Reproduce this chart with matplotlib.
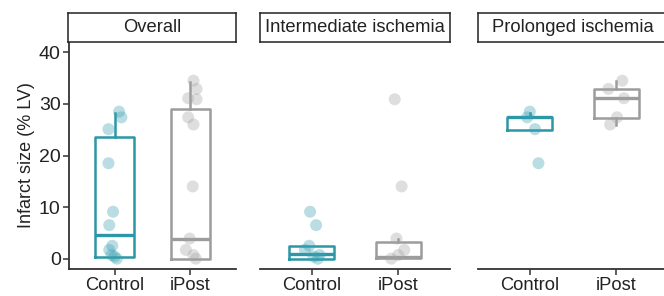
""" Infarct size by group, faceted by ischemia duration.
"""

import matplotlib
matplotlib.use("Agg")
import matplotlib.pyplot as plt


""" DATA """
panels = ["Overall", "Intermediate ischemia", "Prolonged ischemia"]
groups = ["Control", "iPost"]

# infarct size (% LV) per animal
inter_control = [9.1, 6.5, 2.5, 1.7, 0.7, 0.4, 0.0]
inter_ipost = [30.9, 14.0, 3.9, 1.7, 0.7, 0.0]
prol_control = [28.5, 27.4, 25.1, 18.5]
prol_ipost = [34.5, 32.9, 31.1, 27.4, 26.0]
overall_control = prol_control + inter_control
overall_ipost = prol_ipost[:3] + [inter_ipost[0]] + prol_ipost[3:] + inter_ipost[1:]

# box summaries: (whislo, q1, median, q3, whishi)
box_overall = [(0.3, 0.3, 4.5, 23.6, 28.3), (0.0, 0.0, 3.9, 29.1, 34.3)]
box_inter = [(0.0, 0.0, 0.85, 2.45, 2.45), (0.1, 0.1, 0.3, 3.3, 3.9)]
box_prol = [(24.9, 24.9, 27.4, 27.5, 28.3), (26.0, 27.2, 31.1, 32.9, 34.4)]

# horizontal jitter of each point, in category units
jit_overall = [[0.06, 0.09, -0.08, -0.08, -0.02, -0.07, -0.03, -0.07, -0.04, 0.0, 0.03],
               [0.04, 0.08, -0.03, 0.08, -0.03, 0.04, 0.03, -0.01, -0.06, 0.04, 0.07]]
jit_inter = [[-0.02, 0.05, -0.03, -0.08, 0.09, 0.02, 0.07],
             [-0.04, 0.04, -0.02, 0.07, 0.0, -0.08]]
jit_prol = [[0.0, -0.03, 0.06, 0.1],
            [0.07, -0.09, 0.09, 0.01, -0.07]]


""" STYLE """
W, H = 664, 296
teal = "#2b97a7"
grey = "#9c9c9c"
pt_cols = ["#3a9fb0", "#a3a3a3"]
line_col = "#333333"
text_col = "#222222"
plt.rcParams["font.family"] = ["Liberation Sans", "DejaVu Sans"]


def px(x0, y0, x1, y1):
    # pixel box -> figure fraction [left, bottom, width, height]
    return [x0 / W, 1 - y1 / H, (x1 - x0) / W, (y1 - y0) / H]


def draw_panel(ax, vals, boxes, jits, first):
    for i, (col, b) in enumerate(zip([teal, grey], boxes)):
        stats = dict(whislo=b[0], q1=b[1], med=b[2], q3=b[3], whishi=b[4])
        ax.bxp([stats], positions=[i + 1], widths=0.52, showfliers=False,
               showcaps=False, patch_artist=False,
               boxprops=dict(color=col, linewidth=1.8),
               medianprops=dict(color=col, linewidth=2.4),
               whiskerprops=dict(color=col, linewidth=1.8))
    for i, (v, j) in enumerate(zip(vals, jits)):
        xs = [i + 1 + d for d in j]
        ax.scatter(xs, v, s=75, color=pt_cols[i], alpha=0.35,
                   edgecolors="none", zorder=3)

    ax.set_xlim(0.4, 2.6)
    ax.set_ylim(-2, 42)
    ax.set_xticks([1, 2])
    ax.set_xticklabels(groups, fontsize=13.2, color=text_col)
    for s in ["top", "right"]:
        ax.spines[s].set_visible(False)
    ax.spines["bottom"].set_color(line_col)
    ax.spines["bottom"].set_linewidth(1.3)
    ax.tick_params(axis="x", length=4, width=1.1, color=line_col, pad=2)
    if first:
        ax.spines["left"].set_color(line_col)
        ax.spines["left"].set_linewidth(1.3)
        ax.set_yticks([0, 10, 20, 30, 40])
        ax.tick_params(axis="y", length=4, width=1.1, color=line_col,
                       labelsize=14, labelcolor=text_col, pad=2)
        ax.set_ylabel("Infarct size (% LV)", fontsize=13, color=text_col,
                      labelpad=3)
    else:
        ax.spines["left"].set_visible(False)
        ax.set_yticks([])


def draw_strip(fig, rect, label):
    sax = fig.add_axes(rect)
    sax.set_xticks([])
    sax.set_yticks([])
    for s in sax.spines.values():
        s.set_linewidth(1.1)
        s.set_color(text_col)
    sax.text(0.5, 0.48, label, ha="center", va="center", fontsize=13.2,
             color=text_col, transform=sax.transAxes)


def main():
    fig = plt.figure(figsize=(W / 100, H / 100), dpi=100)

    xs = [(69, 236), (260, 450), (478, 668)]
    data = [([overall_control, overall_ipost], box_overall, jit_overall),
            ([inter_control, inter_ipost], box_inter, jit_inter),
            ([prol_control, prol_ipost], box_prol, jit_prol)]

    for k, ((x0, x1), (vals, boxes, jits)) in enumerate(zip(xs, data)):
        ax = fig.add_axes(px(x0, 42, x1, 269))
        draw_panel(ax, vals, boxes, jits, k == 0)
        draw_strip(fig, px(x0 - 1 if k == 0 else x0, 12.5, x1, 42), panels[k])

    fig.savefig("out.png", dpi=100)


""" EXECUTION """
if __name__ == "__main__":
    main()
